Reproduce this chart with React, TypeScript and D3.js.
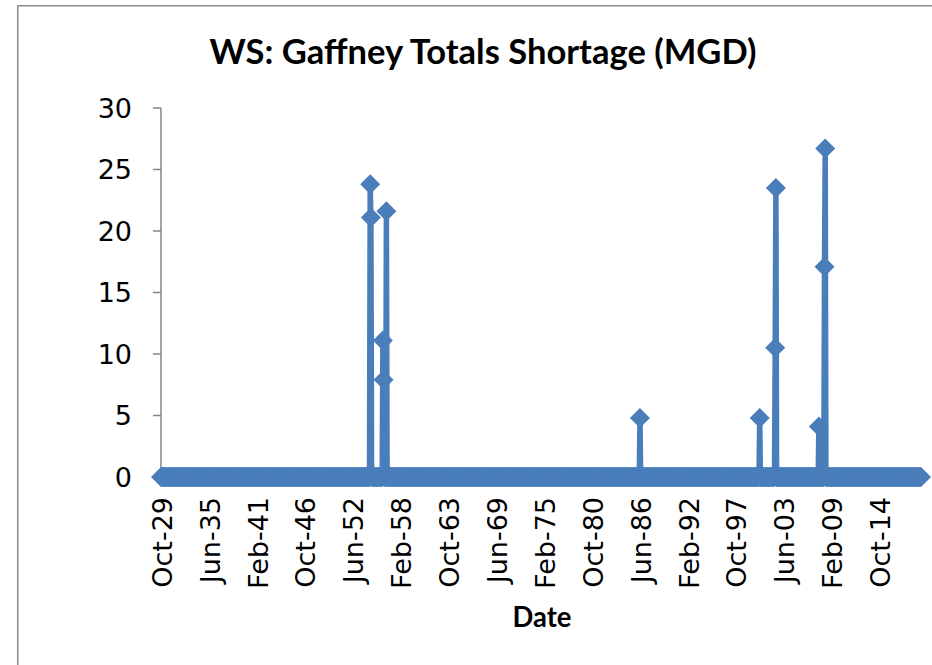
import * as d3 from "d3";

// monthly series, Oct 1929 through Sep 2019; every month not listed below is 0
const startYear = 1929;
const startMonth = 10;
const monthCount = 1080;

const shortageDates = [
  "1954-07", "1954-08", "1956-01", "1956-02", "1956-06",
  "1986-06", "2000-08", "2002-06", "2002-07",
  "2007-08", "2008-04", "2008-05",
];
const shortageValues = [23.8, 21.1, 11.1, 7.9, 21.6, 4.8, 4.8, 10.5, 23.5, 4.1, 17.1, 26.7];

const yTicks = [0, 5, 10, 15, 20, 25, 30];
const xTickLabels = [
  "Oct-29", "Jun-35", "Feb-41", "Oct-46", "Jun-52", "Feb-58", "Oct-63", "Jun-69",
  "Feb-75", "Oct-80", "Jun-86", "Feb-92", "Oct-97", "Jun-03", "Feb-09", "Oct-14",
];

const monthNames = ["Jan", "Feb", "Mar", "Apr", "May", "Jun", "Jul", "Aug", "Sep", "Oct", "Nov", "Dec"];

const width = 932;
const height = 665;
const plot = { left: 161, right: 921, top: 108, bottom: 477 };
const blue = "#4A7EBB";
const axisGray = "#868686";
const r = 10;

function dateIndex(s: string) {
  const [y, m] = s.split("-").map(Number);
  return (y - startYear) * 12 + (m - startMonth);
}

function labelIndex(s: string) {
  const [mon, yy] = s.split("-");
  const y = +yy < 29 ? 2000 + +yy : 1900 + +yy;
  return (y - startYear) * 12 + (monthNames.indexOf(mon) + 1 - startMonth);
}

export default function App() {
  const lookup = new Map(shortageDates.map((d, i) => [dateIndex(d), shortageValues[i]]));
  const series = d3.range(monthCount).map((i) => ({ i, v: lookup.get(i) ?? 0 }));

  const x = d3.scaleLinear().domain([0, monthCount - 1]).range([plot.left, plot.right]);
  const y = d3.scaleLinear().domain([0, 30]).range([plot.bottom, plot.top]);

  const line = d3.line<{ i: number; v: number }>()
    .x((d) => x(d.i))
    .y((d) => y(d.v));

  const diamond = `M0,${-r}L${r},0L0,${r}L${-r},0Z`;

  return (
    <svg
      width={width}
      height={height}
      style={{ position: "absolute", left: 0, top: 0, background: "#fff" }}
    >
      <rect x={17.75} y={5.75} width={1000} height={1000} fill="#fff" stroke="#8c8c8c" strokeWidth={1.5} />

      <text
        x={483}
        y={64}
        textAnchor="middle"
        fontFamily="Lato"
        fontWeight="bold"
        fontSize={35}
        textLength={547}
        lengthAdjust="spacingAndGlyphs"
      >
        WS: Gaffney Totals Shortage (MGD)
      </text>

      {/* y axis */}
      <line x1={plot.left} x2={plot.left} y1={plot.top} y2={plot.bottom} stroke={axisGray} strokeWidth={1.5} />
      {yTicks.map((t) => (
        <g key={t}>
          <line x1={plot.left - 8} x2={plot.left} y1={y(t)} y2={y(t)} stroke={axisGray} strokeWidth={1.5} />
          <text
            x={132}
            y={y(t)}
            dy="0.36em"
            textAnchor="end"
            fontFamily="'DejaVu Sans', Verdana, sans-serif"
            fontSize={27}
          >
            {t}
          </text>
        </g>
      ))}

      {/* x axis */}
      <line x1={plot.left} x2={plot.right} y1={plot.bottom} y2={plot.bottom} stroke={axisGray} strokeWidth={1.5} />
      {xTickLabels.map((lab) => {
        const xi = x(labelIndex(lab));
        return (
          <g key={lab}>
            <line x1={xi} x2={xi} y1={plot.bottom} y2={plot.bottom + 8} stroke={axisGray} strokeWidth={1.5} />
            <text
              transform={`translate(${xi + 1},${497}) rotate(-90)`}
              dy="0.36em"
              textAnchor="end"
              fontFamily="'DejaVu Sans', Verdana, sans-serif"
              fontSize={27}
            >
              {lab}
            </text>
          </g>
        );
      })}

      <path d={line(series) ?? ""} fill="none" stroke={blue} strokeWidth={5.5} strokeLinejoin="round" />
      {series.map((d) => (
        <path key={d.i} d={diamond} transform={`translate(${x(d.i)},${y(d.v)})`} fill={blue} />
      ))}

      <text
        x={542}
        y={627}
        textAnchor="middle"
        fontFamily="Lato"
        fontWeight="bold"
        fontSize={29}
        textLength={59}
        lengthAdjust="spacingAndGlyphs"
      >
        Date
      </text>
    </svg>
  );
}
